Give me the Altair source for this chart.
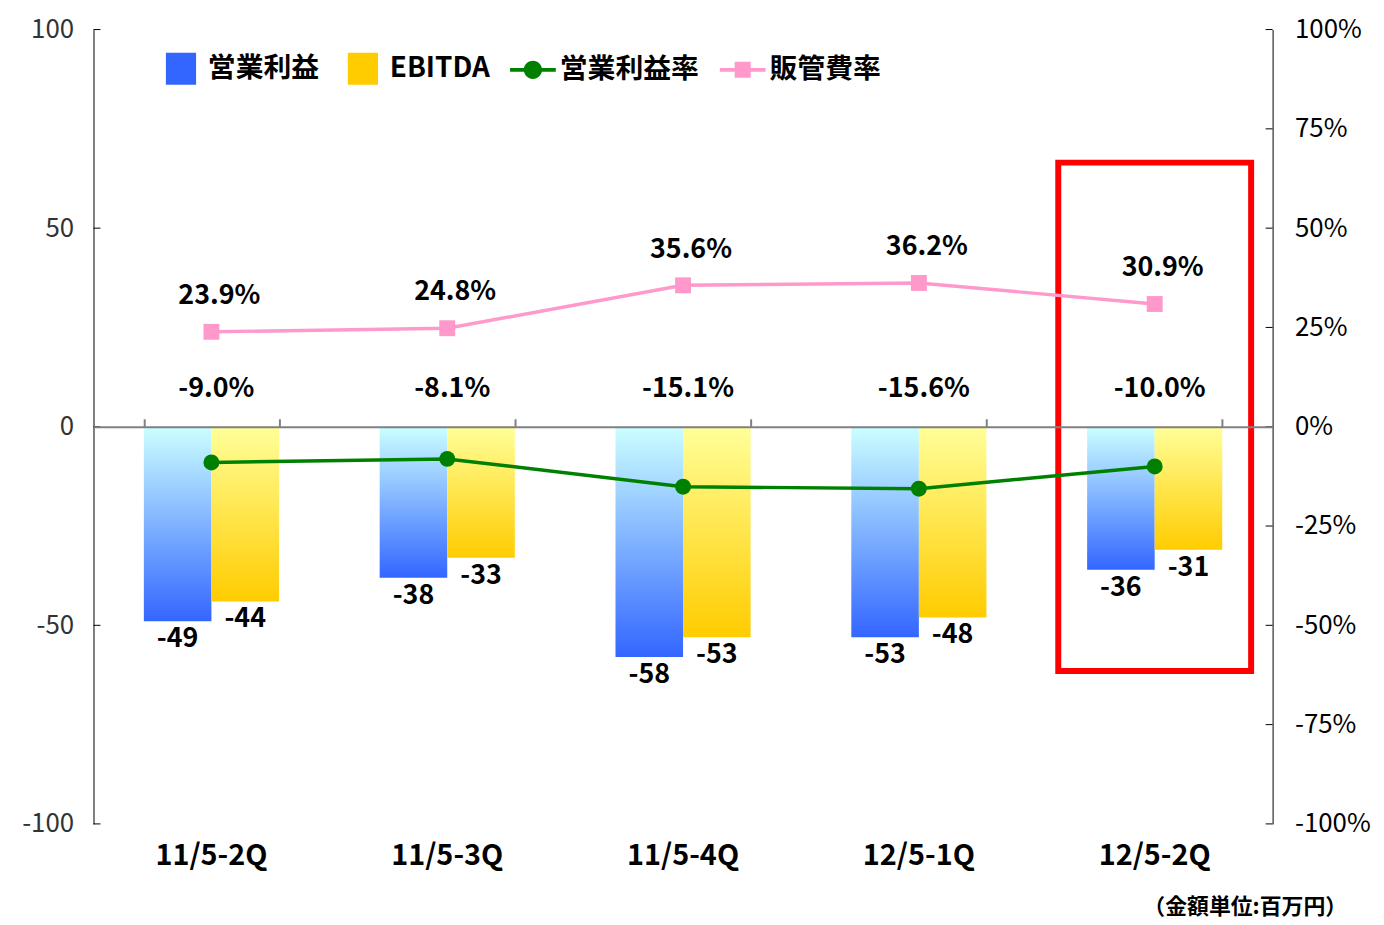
import altair as alt
import pandas as pd

# ---------------- data ----------------
categories = ["11/5-2Q", "11/5-3Q", "11/5-4Q", "12/5-1Q", "12/5-2Q"]
operating_profit = [-49, -38, -58, -53, -36]      # 営業利益 (百万円)
ebitda = [-44, -33, -53, -48, -31]                 # EBITDA (百万円)
op_margin = [-9.0, -8.1, -15.1, -15.6, -10.0]      # 営業利益率 (%)
sga_ratio = [23.9, 24.8, 35.6, 36.2, 30.9]         # 販管費率 (%)
series_names = ["営業利益", "EBITDA", "営業利益率", "販管費率"]
series_colors = ["#3366FF", "#FFCC00", "#008000", "#FF99CC"]
left_ticks = [-100, -50, 0, 50, 100]
right_ticks = [-100, -75, -50, -25, 0, 25, 50, 75, 100]
highlight_category = ["12/5-2Q"]
highlight_top = [66.5]
highlight_bottom = [-61.5]
margin_label_level = 9.5
footnote = "（金額単位:百万円）"

JP = "Noto Sans CJK JP"
W, H = 1186, 799

bars = pd.DataFrame({
    "category": categories * 2,
    "series": [series_names[0]] * len(categories) + [series_names[1]] * len(categories),
    "value": operating_profit + ebitda,
})
bars["label"] = bars["value"].astype(int).astype(str)

lines = pd.DataFrame({
    "category": categories,
    "op_margin": op_margin,
    "sga_ratio": sga_ratio,
})
lines["op_label"] = [f"{v:.1f}%" for v in op_margin]
lines["sga_label"] = [f"{v:.1f}%" for v in sga_ratio]

legend_df = pd.DataFrame({"series": series_names})
ticks_left_df = pd.DataFrame({"tick": left_ticks})
ticks_right_df = pd.DataFrame({"tick": right_ticks})
highlight_df = pd.DataFrame({"category": highlight_category, "top": highlight_top,
                             "bottom": highlight_bottom})

# ---------------- shared encodings ----------------
x_scale = alt.Scale(domain=categories, paddingInner=0.427, paddingOuter=0.2135)
x_plain = alt.X("category:N", scale=x_scale, axis=None)
x_offset = alt.XOffset("series:N", scale=alt.Scale(domain=series_names[:2],
                                                   paddingInner=0, paddingOuter=0))
y_left_scale = alt.Scale(domain=[-100, 100], nice=False, zero=False)
y_right_scale = alt.Scale(domain=[-100, 100], nice=False, zero=False)

blue_grad = alt.Gradient(gradient="linear", x1=0, x2=0, y1=0, y2=1,
                         stops=[alt.GradientStop(color="#CCFFFF", offset=0),
                                alt.GradientStop(color="#3366FF", offset=1)])
yellow_grad = alt.Gradient(gradient="linear", x1=0, x2=0, y1=0, y2=1,
                           stops=[alt.GradientStop(color="#FFFF99", offset=0),
                                  alt.GradientStop(color="#FFCC00", offset=1)])

left_axis = alt.Axis(title=None, values=left_ticks, ticks=False, grid=False,
                     domainColor="black", domainWidth=1, labelFont=JP, labelFontSize=26,
                     labelColor="#333333", labelPadding=20, labelExpr="datum.value + ''")

# ---------------- left (amount) layers ----------------
blue_bars = alt.Chart(bars).transform_filter(
    alt.datum.series == series_names[0]
).mark_bar(color=blue_grad).encode(
    x=alt.X("category:N", scale=x_scale,
            axis=alt.Axis(orient="bottom", title=None, domain=False, ticks=False,
                          labelAngle=0, labelFont=JP, labelFontSize=29,
                          labelFontWeight="bold", labelColor="black", labelPadding=18)),
    xOffset=x_offset,
    y=alt.Y("value:Q", scale=y_left_scale, axis=left_axis),
)

yellow_bars = alt.Chart(bars).transform_filter(
    alt.datum.series == series_names[1]
).mark_bar(color=yellow_grad).encode(
    x=x_plain, xOffset=x_offset, y=alt.Y("value:Q", scale=y_left_scale),
)

bar_labels = alt.Chart(bars).mark_text(
    font=JP, fontSize=27, fontWeight="bold", color="black", baseline="middle", dy=18
).encode(
    x=x_plain, xOffset=x_offset, y=alt.Y("value:Q", scale=y_left_scale),
    text="label:N",
)

zero_line = alt.Chart(highlight_df).mark_rule(opacity=0).encode(
    x=alt.X("category:N", scale=x_scale,
            axis=alt.Axis(orient="top", offset=-H / 2, title=None, labels=False,
                          domainColor="#808080", domainWidth=2, tickColor="#808080",
                          tickWidth=2, tickSize=8, tickBand="extent", zindex=1)),
    y=alt.Y("top:Q", scale=y_left_scale),
)

highlight = alt.Chart(highlight_df).mark_bar(
    size=194, fillOpacity=0, stroke="#FF0000", strokeWidth=6
).encode(
    x=x_plain,
    y=alt.Y("top:Q", scale=y_left_scale),
    y2="bottom:Q",
)

left_tick_marks = alt.Chart(ticks_left_df).mark_rule(color="black", strokeWidth=1).encode(
    y=alt.Y("tick:Q", scale=y_left_scale), x=alt.value(0), x2=alt.value(7),
)
right_tick_marks = alt.Chart(ticks_right_df).mark_rule(color="black", strokeWidth=1).encode(
    y=alt.Y("tick:Q", scale=y_left_scale), x=alt.value(W - 7), x2=alt.value(W),
)

# legend symbol paths (unit box [-1,1] = 46 px)
path_square = "M-0.66,-0.7H0.66V0.7H-0.66Z"
path_line_circle = ("M-1,-0.08H-0.3V0.08H-1Z M0.3,-0.08H1V0.08H0.3Z "
                    "M-0.4,0A0.4,0.4,0,1,1,0.4,0A0.4,0.4,0,1,1,-0.4,0Z")
path_line_square = "M-1,-0.08H1V0.08H-1Z M-0.35,-0.35H0.35V0.35H-0.35Z"

SYM = 2116
leg = alt.Legend(title=None, orient="none", legendX=65, legendY=16,
                 direction="horizontal", columns=4, symbolSize=SYM,
                 symbolStrokeWidth=0, symbolOpacity=1, labelFont=JP, labelFontSize=28,
                 labelFontWeight="bold", labelColor="black", labelOffset=4,
                 columnPadding=20, padding=0, labelLimit=300)

legend_layer = alt.Chart(legend_df).mark_point(filled=True, opacity=0, size=SYM).encode(
    color=alt.Color("series:N", scale=alt.Scale(domain=series_names, range=series_colors),
                    legend=leg),
    shape=alt.Shape("series:N", scale=alt.Scale(domain=series_names,
                                                range=[path_square, path_square,
                                                       path_line_circle, path_line_square]),
                    legend=leg),
)

left_group = alt.layer(
    blue_bars, yellow_bars, zero_line, highlight, bar_labels,
    left_tick_marks, right_tick_marks, legend_layer,
).resolve_axis(x="independent")

# ---------------- right (percentage) layers ----------------
right_axis = alt.Axis(orient="right", title=None, values=right_ticks, ticks=False, grid=False,
                      domainColor="black", domainWidth=1, labelFont=JP, labelFontSize=26,
                      labelColor="black", labelPadding=22, labelExpr="datum.value + '%'")

base_r = alt.Chart(lines)

green_line = base_r.mark_line(color="#008000", strokeWidth=3.5).encode(
    x=x_plain, y=alt.Y("op_margin:Q", scale=y_right_scale, axis=right_axis),
)
green_pts = base_r.mark_point(shape="circle", filled=True, size=256, color="#008000",
                              opacity=1).encode(
    x=x_plain, y=alt.Y("op_margin:Q", scale=y_right_scale),
)
pink_line = base_r.mark_line(color="#FF99CC", strokeWidth=3.5).encode(
    x=x_plain, y=alt.Y("sga_ratio:Q", scale=y_right_scale),
)
pink_pts = base_r.mark_point(shape="square", filled=True, size=256, color="#FF99CC",
                             opacity=1).encode(
    x=x_plain, y=alt.Y("sga_ratio:Q", scale=y_right_scale),
)
pink_labels = base_r.mark_text(font=JP, fontSize=27, fontWeight="bold", color="black",
                               baseline="middle", dy=-36, dx=8).encode(
    x=x_plain, y=alt.Y("sga_ratio:Q", scale=y_right_scale), text="sga_label:N",
)
green_labels = base_r.mark_text(font=JP, fontSize=27, fontWeight="bold", color="black",
                                baseline="middle", dx=5).encode(
    x=x_plain, y=alt.datum(margin_label_level, scale=y_right_scale), text="op_label:N",
)

right_group = alt.layer(green_line, pink_line, green_pts, pink_pts, pink_labels, green_labels)

chart = alt.layer(left_group, right_group).resolve_scale(y="independent").properties(
    width=W, height=H,
    padding={"left": 13, "top": 6, "right": 5, "bottom": 5},
    title=alt.TitleParams(text=footnote, orient="bottom", anchor="end", frame="group",
                          dx=75, fontSize=22, font=JP, fontWeight="bold", color="black",
                          offset=27),
    background="white",
).configure_view(stroke=None)

chart.save("out.html", embed_options={"renderer": "svg", "actions": False})
